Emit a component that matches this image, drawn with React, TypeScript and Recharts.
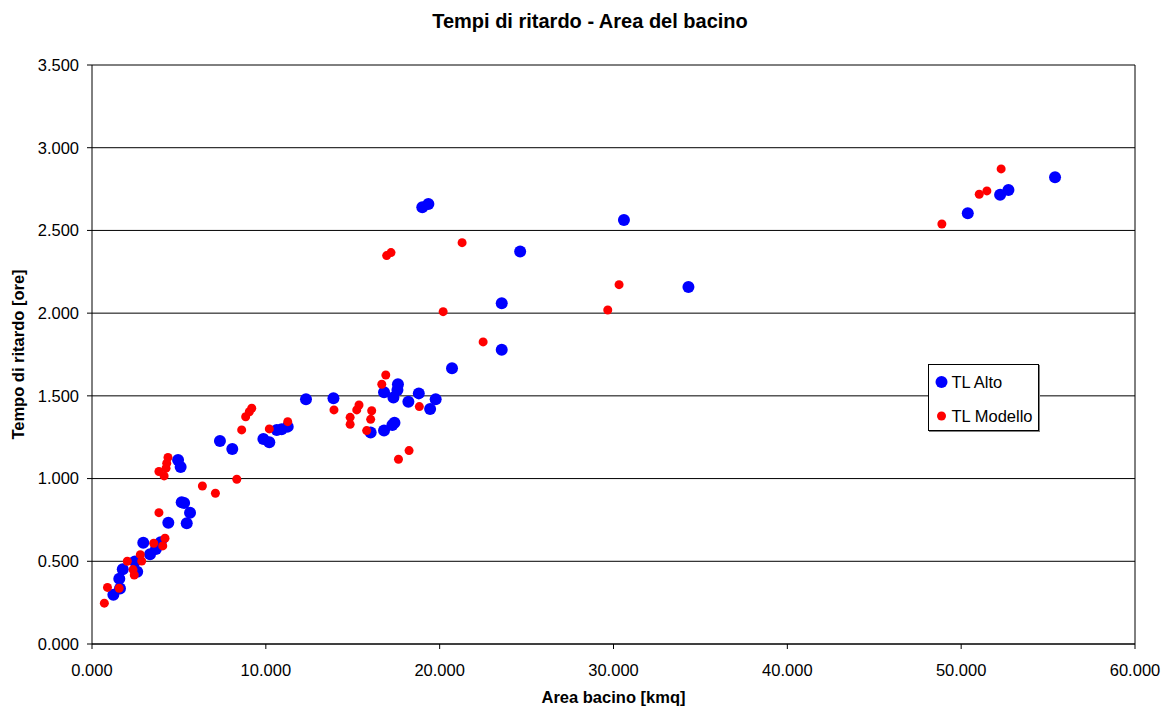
import React from 'react';
import {
  ScatterChart,
  Scatter,
  XAxis,
  YAxis,
  CartesianGrid,
  ReferenceLine,
  Legend,
} from 'recharts';

// ---- data ----
const xTicks = [0, 10, 20, 30, 40, 50, 60];
const yTicks = [0, 0.5, 1, 1.5, 2, 2.5, 3, 3.5];

const tlAltoX = [
  55.4, 52.72, 52.24, 50.38, 34.31, 30.6, 24.63, 23.57, 23.57, 19.35, 19.0, 20.71,
  19.77, 19.45, 18.8, 18.2, 17.6, 17.57, 17.34, 16.8, 17.4, 17.28, 16.8, 16.03,
  13.89, 12.31, 11.26, 10.91, 10.63, 10.2, 9.86, 8.07, 7.36, 4.95, 5.1, 5.64,
  5.45, 5.16, 5.3, 4.39, 2.95, 3.34, 3.68, 3.95, 2.6, 2.47, 1.77, 1.57, 1.61, 1.23,
];
const tlAltoY = [
  2.822, 2.745, 2.715, 2.604, 2.158, 2.563, 2.372, 2.06, 1.779, 2.66, 2.64, 1.667,
  1.479, 1.421, 1.515, 1.465, 1.57, 1.535, 1.49, 1.522, 1.338, 1.324, 1.29, 1.278,
  1.486, 1.48, 1.314, 1.298, 1.294, 1.22, 1.239, 1.179, 1.227, 1.112, 1.07, 0.794,
  0.73, 0.857, 0.853, 0.733, 0.612, 0.542, 0.574, 0.615, 0.437, 0.498, 0.452, 0.395, 0.335, 0.298,
];

const tlModelloX = [
  52.3, 51.48, 51.04, 48.89, 30.32, 29.67, 22.5, 21.29, 20.2, 17.2, 16.95, 16.9,
  16.67, 18.83, 18.24, 17.63, 16.09, 16.03, 15.8, 15.36, 15.23, 14.85, 14.85, 13.92,
  11.26, 10.2, 9.19, 9.05, 8.84, 8.61, 8.33, 7.1, 6.35, 4.37, 4.3, 4.26, 3.85, 4.15,
  3.85, 4.2, 4.07, 3.55, 2.03, 2.78, 2.86, 2.36, 2.43, 0.89, 1.56, 0.71,
];
const tlModelloY = [
  2.872, 2.739, 2.719, 2.539, 2.172, 2.019, 1.826, 2.426, 2.009, 2.366, 2.348, 1.626,
  1.57, 1.435, 1.169, 1.117, 1.41, 1.358, 1.29, 1.445, 1.415, 1.37, 1.328, 1.415,
  1.344, 1.3, 1.425, 1.404, 1.374, 1.294, 0.996, 0.911, 0.955, 1.128, 1.093, 1.063, 1.043, 1.016,
  0.794, 0.639, 0.593, 0.609, 0.5, 0.54, 0.501, 0.45, 0.417, 0.342, 0.337, 0.247,
];

const seriesNames = ['TL Alto', 'TL Modello'];
const seriesColors = ['#0000FF', '#FF0000'];
const seriesRadius = [6, 4.5];

const altoData = tlAltoX.map((x, i) => ({ x, y: tlAltoY[i] }));
const modelloData = tlModelloX.map((x, i) => ({ x, y: tlModelloY[i] }));

const FONT = '"Liberation Sans", Arial, Helvetica, sans-serif';
const fmt = (v: number) => v.toFixed(3);

const dot = (color: string, r: number) => (props: any) => {
  const { cx, cy } = props;
  if (cx == null || cy == null) return <g />;
  return <circle cx={cx} cy={cy} r={r} fill={color} stroke="none" />;
};

const LegendBox = () => (
  <div
    style={{
      width: 109,
      height: 65,
      border: '1px solid #000',
      background: '#fff',
      boxShadow: '1px 1px 0 #7f7f7f',
      fontFamily: FONT,
      fontSize: 16.5,
      color: '#000',
      position: 'relative',
    }}
  >
    {seriesNames.map((name, i) => (
      <div
        key={name}
        style={{
          position: 'absolute',
          left: 0,
          top: i === 0 ? 6 : 39.5,
          height: 22,
          display: 'flex',
          alignItems: 'center',
          whiteSpace: 'nowrap',
        }}
      >
        <svg width={22} height={22} style={{ display: 'block' }}>
          <circle cx={12.5} cy={11} r={seriesRadius[i]} fill={seriesColors[i]} />
        </svg>
        <span style={{ marginLeft: 0.5, lineHeight: '22px' }}>{name}</span>
      </div>
    ))}
  </div>
);

export default function App() {
  return (
    <div style={{ position: 'absolute', left: 0, top: 0, width: 1164, height: 706, background: '#fff' }}>
      <div
        style={{
          position: 'absolute',
          left: 0,
          top: 11,
          width: 1180,
          textAlign: 'center',
          fontFamily: FONT,
          fontWeight: 'bold',
          fontSize: 20,
          lineHeight: '20px',
          color: '#000',
          whiteSpace: 'nowrap',
        }}
      >
        Tempi di ritardo - Area del bacino
      </div>
      <ScatterChart
        width={1164}
        height={706}
        margin={{ top: 65, right: 29, bottom: 0, left: 0 }}
        style={{ fontFamily: FONT }}
      >
        <CartesianGrid horizontal vertical={false} stroke="#000" strokeWidth={1} />
        <XAxis
          type="number"
          dataKey="x"
          domain={[0, 60]}
          ticks={xTicks}
          tickFormatter={fmt}
          height={62}
          tickSize={5}
          tickMargin={15}
          axisLine={{ stroke: '#000' }}
          tickLine={{ stroke: '#000' }}
          tick={{ fill: '#000', fontSize: 16.5, fontFamily: FONT }}
          allowDataOverflow
          label={{
            content: (p: any) => {
              const vb = p.viewBox || {};
              return (
                <text
                  x={vb.x + vb.width / 2}
                  y={702.5}
                  textAnchor="middle"
                  fontFamily={FONT}
                  fontWeight="bold"
                  fontSize={16.5}
                  fill="#000"
                >
                  Area bacino [kmq]
                </text>
              );
            },
          }}
        />
        <YAxis
          type="number"
          dataKey="y"
          domain={[0, 3.5]}
          ticks={yTicks}
          tickFormatter={fmt}
          width={92}
          tickSize={5}
          tickMargin={8}
          axisLine={{ stroke: '#000' }}
          tickLine={{ stroke: '#000' }}
          tick={{ fill: '#000', fontSize: 16.5, fontFamily: FONT }}
          allowDataOverflow
          label={{
            content: (p: any) => {
              const vb = p.viewBox || {};
              const cy = vb.y + vb.height / 2;
              return (
                <text
                  x={24}
                  y={cy}
                  transform={`rotate(-90 24 ${cy})`}
                  textAnchor="middle"
                  fontFamily={FONT}
                  fontWeight="bold"
                  fontSize={16.5}
                  fill="#000"
                >
                  Tempo di ritardo [ore]
                </text>
              );
            },
          }}
        />
        <ReferenceLine x={60} stroke="#000" strokeWidth={1} />
        <Legend
          layout="horizontal"
          verticalAlign="middle"
          align="center"
          content={() => <LegendBox />}
          wrapperStyle={{ position: 'absolute', left: 928, top: 364, width: 111, height: 67 }}
        />
        <Scatter
          name={seriesNames[0]}
          data={altoData}
          fill={seriesColors[0]}
          shape={dot(seriesColors[0], seriesRadius[0])}
          isAnimationActive={false}
        />
        <Scatter
          name={seriesNames[1]}
          data={modelloData}
          fill={seriesColors[1]}
          shape={dot(seriesColors[1], seriesRadius[1])}
          isAnimationActive={false}
        />
      </ScatterChart>
    </div>
  );
}
